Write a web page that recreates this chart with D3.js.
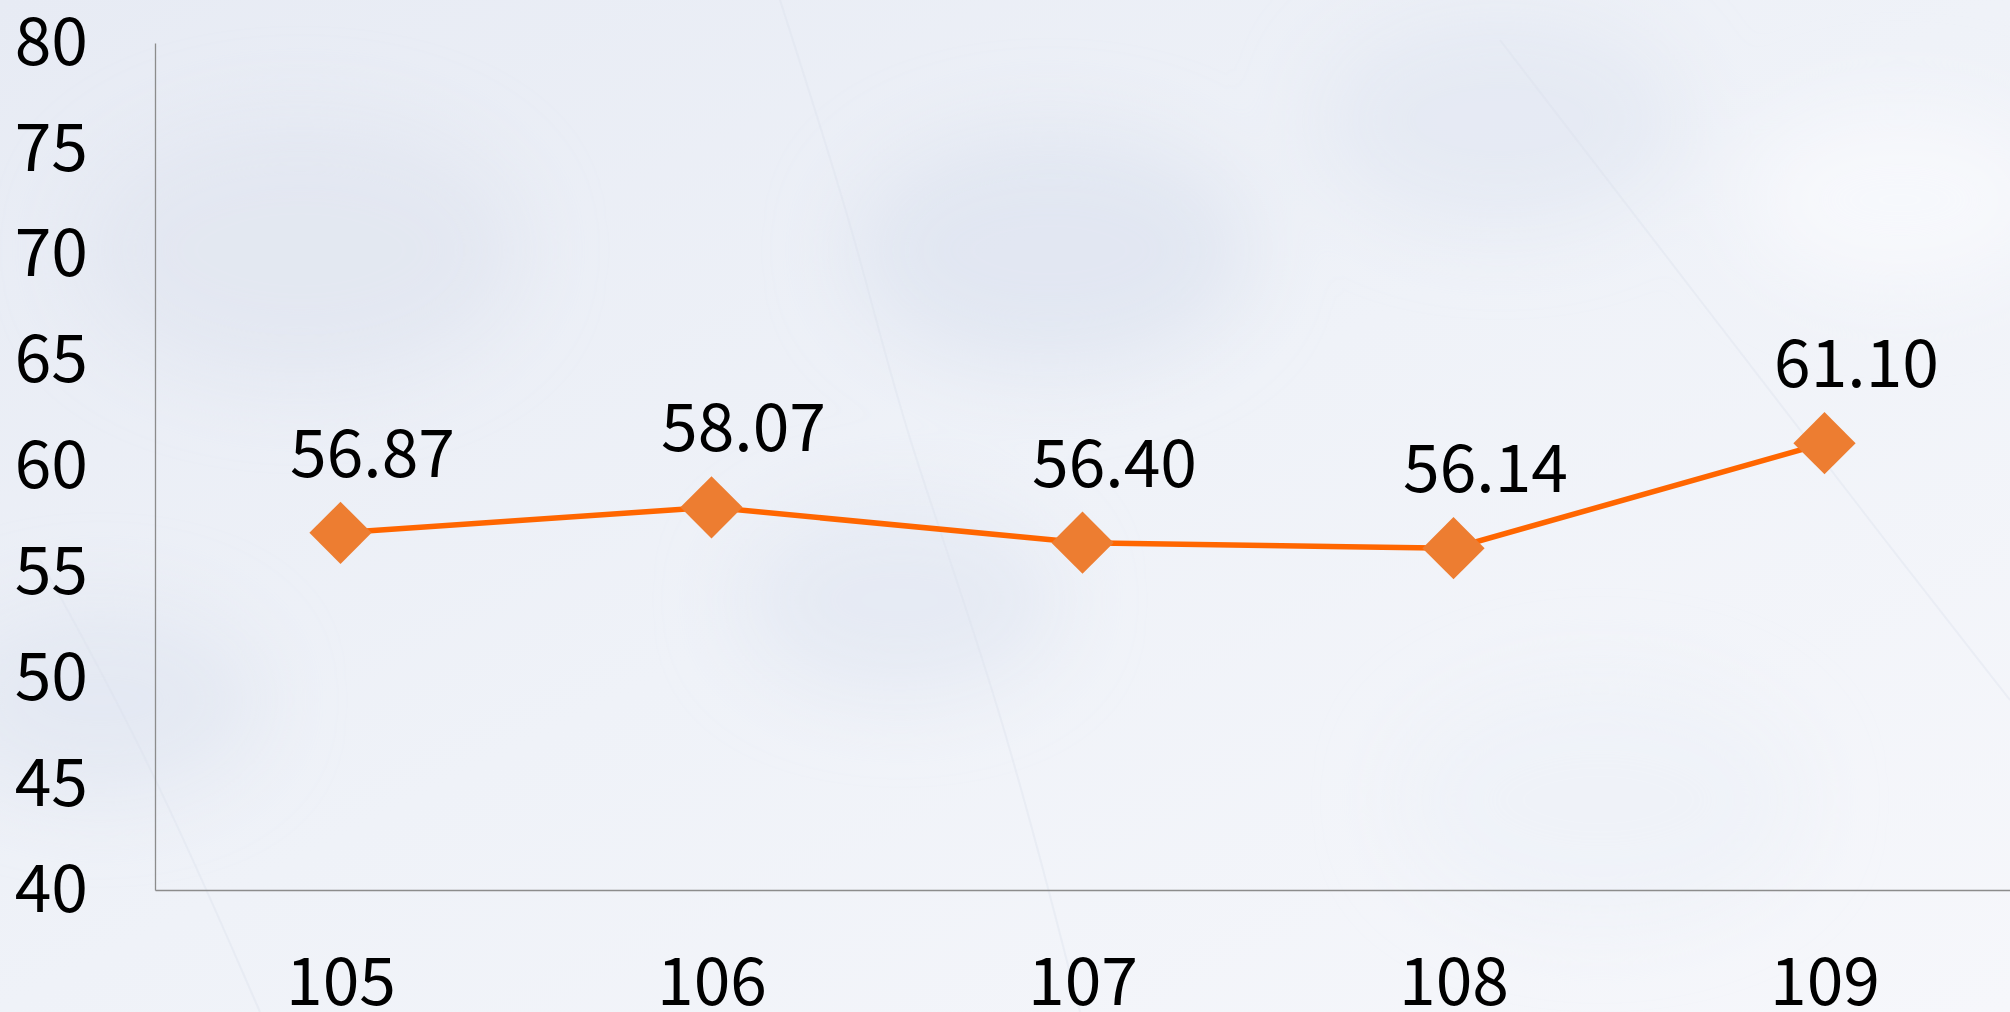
<!DOCTYPE html>
<html>
<head>
<meta charset="utf-8">
<script src="https://cdn.jsdelivr.net/npm/d3@7"></script>
<style>
html,body{margin:0;padding:0;width:2010px;height:1012px;overflow:hidden;}
svg{display:block;}
</style>
</head>
<body>
<svg id="chart" width="2010" height="1012"></svg>
<script>
const categories = ["105", "106", "107", "108", "109"];
const values = [56.87, 58.07, 56.40, 56.14, 61.10];
const valueLabels = ["56.87", "58.07", "56.40", "56.14", "61.10"];
const yTicks = [40, 45, 50, 55, 60, 65, 70, 75, 80];

const W = 2010, H = 1012;
const svg = d3.select("#chart");
const defs = svg.append("defs");

// marble-like background
const bg = defs.append("linearGradient").attr("id","bg").attr("x1","0").attr("y1","0").attr("x2","1").attr("y2","1");
bg.append("stop").attr("offset","0").attr("stop-color","#e7ebf4");
bg.append("stop").attr("offset","0.5").attr("stop-color","#eff2f8");
bg.append("stop").attr("offset","1").attr("stop-color","#f6f7fb");
svg.append("rect").attr("width",W).attr("height",H).attr("fill","url(#bg)");

const blur = defs.append("filter").attr("id","soft").attr("x","-50%").attr("y","-50%").attr("width","200%").attr("height","200%");
blur.append("feGaussianBlur").attr("stdDeviation", 40);
const blobs = [[300,250,220,"#e1e6f0"],[1050,250,200,"#dfe5f0"],[1500,120,180,"#e3e8f2"],[900,600,160,"#e4e8f2"],[100,700,160,"#e2e7f1"],[1600,800,200,"#eef1f7"],[1900,200,160,"#f8f9fc"]];
svg.append("g").attr("filter","url(#soft)").selectAll("ellipse").data(blobs).join("ellipse")
  .attr("cx",d=>d[0]).attr("cy",d=>d[1]).attr("rx",d=>d[2]).attr("ry",d=>d[2]*0.6)
  .attr("fill",d=>d[3]).attr("opacity",0.8);

// faint veins
const veins = [[[780,0],[860,250],[900,420],[1000,700],[1080,1012]],[[1500,40],[1700,300],[1900,560],[2010,700]],[[40,560],[150,760],[260,1012]]];
svg.append("g").selectAll("path").data(veins).join("path")
  .attr("d", d3.line().curve(d3.curveBasis))
  .attr("fill","none").attr("stroke","#d9dfea").attr("stroke-width",2).attr("opacity",0.35);

const x = d3.scalePoint().domain(categories).range([155, W]).padding(0.5);
const y = d3.scaleLinear().domain([40, 80]).range([890, 43]);

const font = "'Noto Sans CJK TC', 'Noto Sans', sans-serif";
const fs = 66;

const yAxis = svg.append("g").attr("transform","translate(155,0)")
  .call(d3.axisLeft(y).tickValues(yTicks).tickSize(0).tickPadding(67));
yAxis.select(".domain").attr("stroke","#8c8c8c").attr("stroke-width",1.3);
yAxis.selectAll("text").attr("font-family",font).attr("font-size",fs).attr("fill","#000");

const xAxis = svg.append("g").attr("transform","translate(0,890)")
  .call(d3.axisBottom(x).tickSize(0).tickPadding(68));
xAxis.select(".domain").attr("stroke","#8c8c8c").attr("stroke-width",1.3);
xAxis.selectAll("text").attr("font-family",font).attr("font-size",fs).attr("fill","#000");

const pts = categories.map((c,i)=>({c, v: values[i], label: valueLabels[i]}));

svg.append("path").datum(pts)
  .attr("d", d3.line().x(d=>x(d.c)).y(d=>y(d.v)))
  .attr("fill","none").attr("stroke","#ff6600").attr("stroke-width",5.5);

const sym = d3.symbol().type(d3.symbolSquare).size(44*44);
svg.append("g").selectAll("path").data(pts).join("path")
  .attr("d", sym)
  .attr("transform", d=>`translate(${x(d.c)},${y(d.v)}) rotate(45)`)
  .attr("fill","#ed7d31");

svg.append("g").selectAll("text").data(pts).join("text")
  .attr("x", d=>x(d.c) + 32)
  .attr("y", d=>y(d.v) - 56)
  .attr("text-anchor","middle")
  .attr("font-family",font).attr("font-size",fs).attr("fill","#000")
  .text(d=>d.label);
</script>
</body>
</html>
